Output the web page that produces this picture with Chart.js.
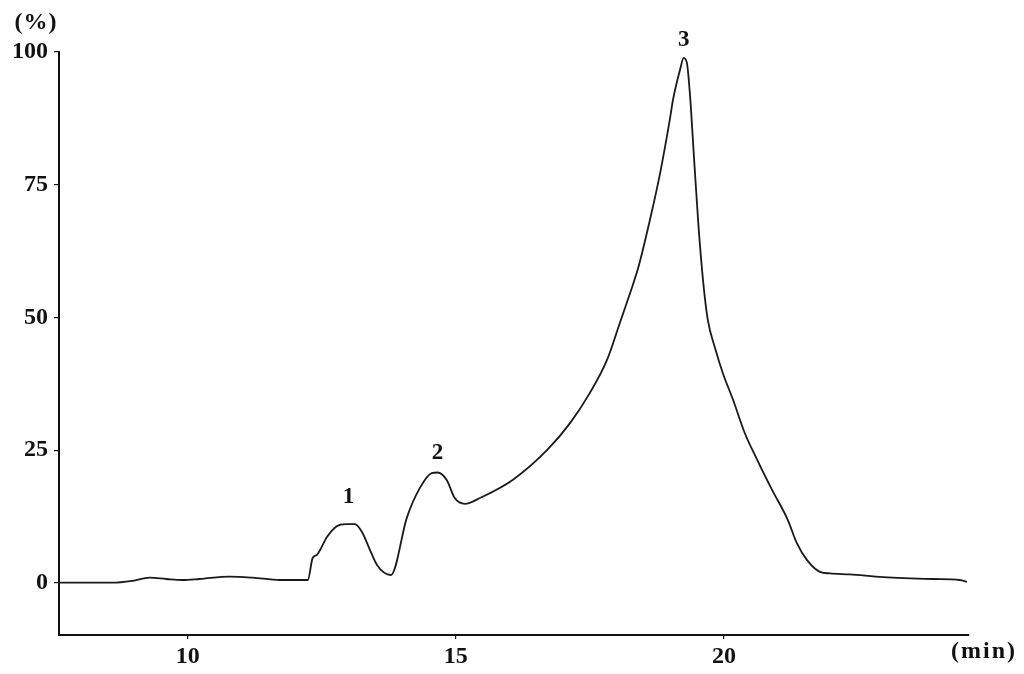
<!DOCTYPE html>
<html>
<head>
<meta charset="utf-8">
<script src="https://cdn.jsdelivr.net/npm/chart.js@4/dist/chart.umd.min.js"></script>
<style>
  html, body { margin: 0; padding: 0; background: #fff; }
  #wrap { width: 1024px; height: 674px; position: relative; }
</style>
</head>
<body>
<div id="wrap"><canvas id="c"></canvas></div>
<script>
// Retention time (min)
const timeMin = [
  7.6, 8.6, 8.97, 9.29, 9.6, 9.9, 10.22, 10.78, 11.21, 11.72, 12.24,
  12.33, 12.41, 12.6, 12.78, 12.95, 13.12, 13.25, 13.4, 13.53, 13.79,
  14.09, 14.33, 14.55, 14.66, 14.83, 14.98, 15.17, 15.45, 16.06, 16.7,
  17.13, 17.5, 17.82, 18.06, 18.25, 18.4, 18.62, 18.81, 18.99, 19.05,
  19.18, 19.25, 19.31, 19.37, 19.43, 19.52, 19.61, 19.7, 19.83,
  19.98, 20.17, 20.39, 20.62, 20.9, 21.19, 21.36, 21.55, 21.79, 21.98,
  22.35, 22.97, 23.9, 24.4, 24.53
];
// Relative intensity (%)
const intensity = [
  0.05, 0.05, 0.4, 1.0, 0.75, 0.56, 0.75, 1.2, 1.0, 0.56, 0.56,
  4.7, 5.3, 8.7, 10.7, 11.1, 11.1, 9.6, 6.2, 3.4, 1.5,
  12.4, 17.9, 20.7, 20.8, 19.4, 16.0, 14.9, 16.0, 19.4, 25.0,
  30.1, 35.8, 42.0, 49.0, 54.6, 59.3, 68.4, 77.2, 87.2, 91.0,
  96.6, 98.9, 97.9, 91.5, 82.0, 68.0, 57.0, 49.5, 44.4,
  39.5, 34.5, 28.2, 23.2, 17.5, 11.9, 7.5, 4.3, 2.1, 1.8,
  1.6, 1.1, 0.75, 0.56, 0.2
];
const xTicks = [10, 15, 20];
const yTicks = [0, 25, 50, 75, 100];
const peakLabels = ['1', '2', '3'];
const peakLabelX = [13.0, 14.66, 19.25];
const peakLabelY = [16.2, 24.5, 102.3];

const FONT = '"Liberation Serif", "Times New Roman", serif';

const textPlugin = {
  id: 'texts',
  afterDraw(chart) {
    const ctx = chart.ctx;
    const xs = chart.scales.x, ys = chart.scales.y;
    ctx.save();
    ctx.fillStyle = '#111';
    ctx.textAlign = 'center';
    ctx.textBaseline = 'middle';
    ctx.font = 'bold 23px ' + FONT;
    for (let i = 0; i < peakLabels.length; i++) {
      ctx.fillText(peakLabels[i], xs.getPixelForValue(peakLabelX[i]), ys.getPixelForValue(peakLabelY[i]));
    }
    ctx.font = 'bold 24px ' + FONT;
    try { ctx.letterSpacing = '1px'; } catch (e) {}
    ctx.fillText('(%)', 36, 23);
    try { ctx.letterSpacing = '2px'; } catch (e) {}
    ctx.fillText('(min)', 984, 652);
    ctx.restore();
  }
};

new Chart(document.getElementById('c'), {
  type: 'line',
  data: {
    datasets: [{
      data: timeMin.map((t, i) => ({ x: t, y: intensity[i] })),
      borderColor: '#1a1a1a',
      borderWidth: 1.8,
      pointRadius: 0,
      fill: false,
      cubicInterpolationMode: 'monotone'
    }]
  },
  options: {
    responsive: true,
    maintainAspectRatio: false,
    animation: false,
    layout: { padding: { left: 0, top: 52, right: 55, bottom: 0 } },
    plugins: { legend: { display: false }, tooltip: { enabled: false } },
    scales: {
      x: {
        type: 'linear',
        min: 7.6,
        max: 24.57,
        afterBuildTicks: s => { s.ticks = xTicks.map(v => ({ value: v })); },
        afterFit: s => { s.height = 39; },
        border: { display: true, color: '#111', width: 2 },
        grid: { drawOnChartArea: false, drawTicks: true, tickLength: 4, color: '#111', lineWidth: 1.2 },
        ticks: { color: '#111', padding: 3, maxRotation: 0, font: { family: FONT, size: 24, weight: 'bold' } }
      },
      y: {
        type: 'linear',
        min: -9.8,
        max: 100,
        afterBuildTicks: s => { s.ticks = yTicks.map(v => ({ value: v })); },
        afterFit: s => { s.width = 59; },
        border: { display: true, color: '#111', width: 2 },
        grid: { drawOnChartArea: false, drawTicks: true, tickLength: 5, color: '#111', lineWidth: 1.2 },
        ticks: { color: '#111', padding: 6, font: { family: FONT, size: 24, weight: 'bold' } }
      }
    }
  },
  plugins: [textPlugin]
});
</script>
</body>
</html>
